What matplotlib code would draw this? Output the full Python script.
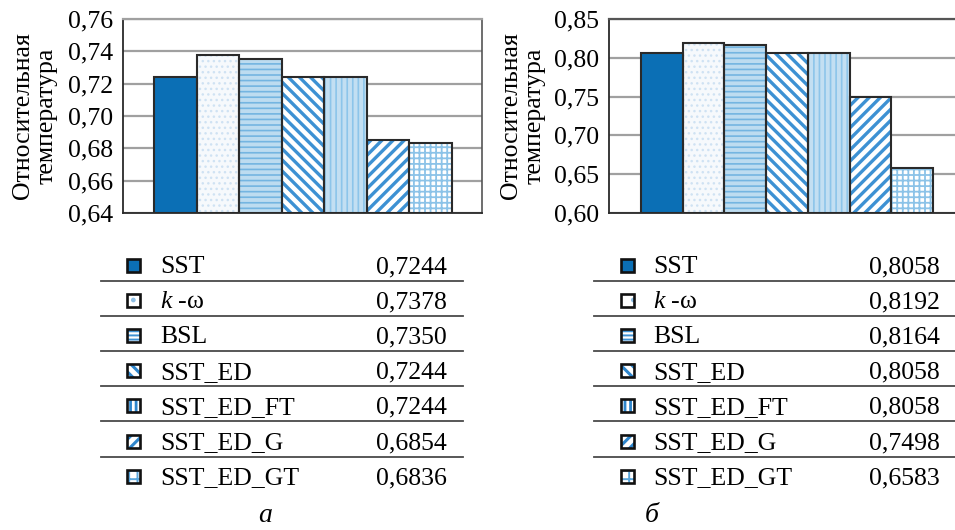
import matplotlib
matplotlib.use("Agg")
import matplotlib.pyplot as plt
import numpy as np
from matplotlib.patches import Rectangle

# ---- data -------------------------------------------------------------
models = ["SST", "k-ω", "BSL", "SST_ED", "SST_ED_FT", "SST_ED_G", "SST_ED_GT"]
model_labels = ["SST", r"$\mathit{k}$ -ω", "BSL", "SST_ED", "SST_ED_FT",
                "SST_ED_G", "SST_ED_GT"]
temp_a = [0.7244, 0.7378, 0.7350, 0.7244, 0.7244, 0.6854, 0.6836]
temp_b = [0.8058, 0.8192, 0.8164, 0.8058, 0.8058, 0.7498, 0.6583]
ticks_a = [0.64, 0.66, 0.68, 0.70, 0.72, 0.74, 0.76]
ticks_b = [0.60, 0.65, 0.70, 0.75, 0.80, 0.85]
ylabel = "Относительная\nтемпература"
panel_names = ["а", "б"]

# ---- styling ----------------------------------------------------------
plt.rcParams["font.family"] = ["Liberation Serif", "DejaVu Serif"]
plt.rcParams["mathtext.fontset"] = "custom"
plt.rcParams["mathtext.it"] = "Liberation Serif:italic"
plt.rcParams["mathtext.rm"] = "Liberation Serif"
plt.rcParams["hatch.linewidth"] = 1.6

W, H = 955, 530
DARK = "#2a2a2a"
GRID = "#a0a0a0"
FS = 18.5

# bar styles: face colour, hatch, hatch colour, hatch line width
bar_styles = [
    ("#0b6fb5", None, None, 0),
    ("#f6f9fc", "...", "#cfe2f3", 1.0),
    ("#bddcf0", "---", "#74b5e1", 1.2),
    ("white", "\\\\\\", "#3d91d3", 2.4),
    ("#c3dff2", "|||", "#8dc5ea", 1.2),
    ("white", "///", "#3d91d3", 2.4),
    ("white", "+++", "#8cc3e8", 1.3),
]
# legend square styles: face colour, hatch, hatch colour, hatch line width
key_styles = [
    ("#0b6fb5", None, None, 0),
    ("white", ".", "#8fbfe4", 1.0),
    ("white", "----", "#3d91d3", 1.4),
    ("white", "\\\\\\", "#2f86cc", 2.2),
    ("white", "|||", "#2f86cc", 2.0),
    ("white", "///", "#2f86cc", 2.2),
    ("white", "++", "#5aa6dc", 1.4),
]

fig = plt.figure(figsize=(W / 100, H / 100), dpi=100)


def set_hlw(patch, lw):
    if hasattr(patch, "set_hatch_linewidth") and lw:
        patch.set_hatch_linewidth(lw)


def px_axes(x0, x1, y0, y1):
    return fig.add_axes([x0 / W, 1 - y1 / H, (x1 - x0) / W, (y1 - y0) / H])


def draw_bars(ax, vals, ticks, xlim, right_spine=True):
    ymin, ymax = ticks[0], ticks[-1]
    x = np.arange(len(vals))
    heights = np.array(vals) - ymin
    for i, (face, hatch, hc, hlw) in enumerate(bar_styles):
        with plt.rc_context({"hatch.linewidth": hlw or 1.0}):
            bc = ax.bar(x[i], heights[i], bottom=ymin, width=1.0, color=face,
                        hatch=hatch, edgecolor=hc if hc else face,
                        linewidth=0, zorder=2)
        for p in bc:
            set_hlw(p, hlw)
        ax.bar(x[i], heights[i], bottom=ymin, width=1.0, fill=False,
               edgecolor=DARK, linewidth=1.5, zorder=3)
    ax.set_xlim(*xlim)
    ax.set_ylim(ymin, ymax)
    ax.set_yticks(ticks)
    ax.set_yticklabels([f"{t:.2f}".replace(".", ",") for t in ticks],
                       fontsize=FS)
    ax.set_xticks([])
    ax.tick_params(axis="y", length=0, pad=7)
    ax.yaxis.grid(True, color=GRID, linewidth=1.6, zorder=0)
    ax.set_axisbelow(True)
    for side in ("left", "bottom"):
        ax.spines[side].set_color(DARK)
        ax.spines[side].set_linewidth(1.3)
    ax.spines["top"].set_color(GRID)
    ax.spines["top"].set_linewidth(1.6)
    ax.spines["right"].set_color("#555555")
    ax.spines["right"].set_linewidth(1.2)
    ax.spines["right"].set_visible(right_spine)


ax_a = px_axes(123, 482, 19, 213)
draw_bars(ax_a, temp_a, ticks_a, (-1.228, 7.205))
ax_b = px_axes(609, 955, 19, 213)
draw_bars(ax_b, temp_b, ticks_b, (-1.267, 7.028), right_spine=False)
ax_b.spines["top"].set_color("#555555")

# ---- overlay in pixel coordinates for labels and value tables ---------
ov = fig.add_axes([0, 0, 1, 1], zorder=5)
ov.set_xlim(0, W)
ov.set_ylim(H, 0)
ov.axis("off")
ov.patch.set_alpha(0)

ov.text(35, 116, ylabel, rotation=90, ha="center", va="center",
        multialignment="center", fontsize=FS, linespacing=1.1)
ov.text(523, 116, ylabel, rotation=90, ha="center", va="center",
        multialignment="center", fontsize=FS, linespacing=1.1)


def draw_table(vals, sq_x, txt_x, num_x, line_x0, line_x1):
    for i, (lab, v) in enumerate(zip(model_labels, vals)):
        base = 273 + 35.2 * i
        face, hatch, hc, hlw = key_styles[i]
        cy = base - 8
        with plt.rc_context({"hatch.linewidth": hlw or 1.0}):
            sq = Rectangle((sq_x - 6.5, cy - 6.5), 13, 13, facecolor=face,
                           hatch=hatch, edgecolor=hc if hc else face,
                           linewidth=0)
        set_hlw(sq, hlw)
        ov.add_patch(sq)
        ov.add_patch(Rectangle((sq_x - 6.5, cy - 6.5), 13, 13, fill=False,
                               edgecolor="#111111", linewidth=1.9))
        ov.text(txt_x, base, lab, ha="left", va="baseline", fontsize=FS)
        ov.text(num_x, base, f"{v:.4f}".replace(".", ","), ha="right",
                va="baseline", fontsize=FS)
        if i < len(vals) - 1:
            ov.plot([line_x0, line_x1], [base + 7.5, base + 7.5],
                    color="#4a4a4a", linewidth=1.3)


draw_table(temp_a, 133.5, 160, 447, 101, 463)
draw_table(temp_b, 627, 653, 940, 594, 955)

ov.text(265, 515, panel_names[0], ha="center", va="center", fontsize=20,
        style="italic")
ov.text(652, 515, panel_names[1], ha="center", va="center", fontsize=20,
        style="italic")

fig.savefig("out.png", dpi=100)
